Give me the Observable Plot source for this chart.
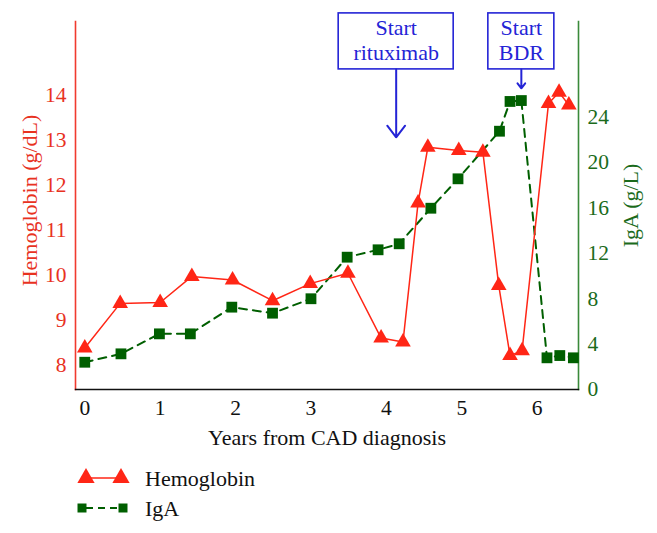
<!DOCTYPE html>
<html>
<head>
<meta charset="utf-8">
<script src="https://cdn.jsdelivr.net/npm/d3@7"></script>
<script src="https://cdn.jsdelivr.net/npm/@observablehq/plot@0.6"></script>
<style>
  html, body { margin: 0; padding: 0; background: #fff; }
  #wrap { position: relative; width: 657px; height: 533px; font-family: "Liberation Serif", "DejaVu Serif", serif; }
  #legend { position: absolute; left: 0; top: 450px; }
</style>
</head>
<body>
<div id="wrap"><div id="chart"></div><svg id="legend" width="657" height="83"></svg></div>
<script>
// ---- data ----
const hbYears = [0, 0.47, 1.00, 1.42, 1.96, 2.49, 2.99, 3.49, 3.93, 4.22, 4.42, 4.55, 4.96, 5.28, 5.49, 5.64, 5.80, 6.15, 6.29, 6.42];
const hbValues = [8.39, 9.38, 9.40, 9.98, 9.90, 9.44, 9.82, 10.05, 8.61, 8.52, 11.61, 12.85, 12.78, 12.74, 9.78, 8.22, 8.33, 13.82, 14.07, 13.79];
const igaYears = [0, 0.48, 0.99, 1.40, 1.95, 2.49, 3.00, 3.48, 3.89, 4.17, 4.59, 4.95, 5.50, 5.64, 5.79, 6.13, 6.30, 6.48];
const igaValues = [2.40, 3.14, 4.90, 4.90, 7.25, 6.72, 7.99, 11.65, 12.30, 12.83, 15.96, 18.55, 22.74, 25.36, 25.44, 2.79, 2.99, 2.79];
const xTicks = [0, 1, 2, 3, 4, 5, 6];
const hbTicks = [8, 9, 10, 11, 12, 13, 14];
const igaTicks = [0, 4, 8, 12, 16, 20, 24];
const annoYears = [4.13, 5.79];
const annoLabels = ["Start\nrituximab", "Start\nBDR"];
const annoTips = [13.07, 14.16];   // arrow tip, in g/dL
const annoBase = [14.58, 14.58];   // box bottom, in g/dL
const xTitle = "Years from CAD diagnosis";
const hbTitle = "Hemoglobin (g/dL)";
const igaTitle = "IgA (g/L)";
const seriesNames = ["Hemoglobin", "IgA"];

// ---- scales ----
const HB_DOMAIN = [7.4667, 15.6444];
const IGA_DOMAIN = [0, 32.4];
const toHb = d3.scaleLinear().domain(IGA_DOMAIN).range(HB_DOMAIN);

const RED = "#ff2616", RED_AXIS = "#f03a2e", RED_TXT = "#e8321f";
const GREEN = "#005f00", GREEN_AXIS = "#3a8a3a", GREEN_TXT = "#1b6b1b";
const BLUE = "#2424d6";

const hb = hbYears.map((x, i) => ({x, y: hbValues[i]}));
const iga = igaYears.map((x, i) => ({x, y: toHb(igaValues[i])}));
const annos = annoYears.map((x, i) => ({x, label: annoLabels[i], tip: annoTips[i], base: annoBase[i]}));

const FS = 22, TFS = 21.5;
const chart = Plot.plot({
  width: 657,
  height: 450,
  marginLeft: 75,
  marginRight: 79,
  marginTop: 21,
  marginBottom: 61,
  style: {fontFamily: '"Liberation Serif", serif', fontSize: FS + "px", background: "white", overflow: "visible"},
  x: {domain: [-0.123, 6.548]},
  y: {domain: HB_DOMAIN},
  marks: [
    Plot.axisX({ticks: xTicks, tickFormat: d => String(d), tickSize: 0, tickPadding: 10, label: null, fill: "#111", fontSize: TFS}),
    Plot.axisY({anchor: "left", ticks: hbTicks, tickFormat: d => String(d), tickSize: 0, tickPadding: 9, label: null, fill: RED_TXT, fontSize: TFS}),
    Plot.axisY(igaTicks.map(v => toHb(v)), {anchor: "right", tickSize: 0, tickPadding: 9, label: null, fill: GREEN_TXT, fontSize: TFS,
      tickFormat: d => String(Math.round(toHb.invert(d)))}),
    Plot.frame({anchor: "left", stroke: RED_AXIS, strokeWidth: 1.6}),
    Plot.frame({anchor: "right", stroke: GREEN_AXIS, strokeWidth: 1.6}),
    Plot.frame({anchor: "bottom", stroke: "#111", strokeWidth: 1.4}),
    Plot.text([xTitle], {frameAnchor: "bottom", dy: 48, text: d => d, fontSize: FS, fill: "#111", lineAnchor: "middle", textAnchor: "middle"}),
    Plot.text([hbTitle], {frameAnchor: "left", dx: -46, dy: -5, text: d => d, rotate: -90, fontSize: FS, fill: RED_TXT, lineAnchor: "middle", textAnchor: "middle"}),
    Plot.text([igaTitle], {frameAnchor: "right", dx: 52, text: d => d, rotate: -90, fontSize: FS, fill: GREEN_TXT, lineAnchor: "middle", textAnchor: "middle"}),
    // series
    Plot.line(iga, {x: "x", y: "y", stroke: GREEN, strokeWidth: 2, strokeDasharray: "8,6"}),
    Plot.line(hb, {x: "x", y: "y", stroke: RED, strokeWidth: 1.5}),
    Plot.dot(iga, {x: "x", y: "y", symbol: "square", r: 6.1, fill: GREEN, stroke: "none"}),
    Plot.dot(hb, {x: "x", y: "y", symbol: "triangle", r: 5.8, fill: RED, stroke: "none"}),
    // annotations
    Plot.rect([annos[0]], {x1: "x", x2: "x", y1: "base", y2: "base", insetLeft: -57.5, insetRight: -57.5, insetTop: -56, fill: "white", stroke: BLUE, strokeWidth: 1.6}),
    Plot.rect([annos[1]], {x1: "x", x2: "x", y1: "base", y2: "base", insetLeft: -33, insetRight: -33, insetTop: -56, fill: "white", stroke: BLUE, strokeWidth: 1.6}),
    Plot.text(annos, {x: "x", y: "base", text: "label", dy: -30, fill: BLUE, fontSize: FS, lineHeight: 1.15, lineAnchor: "middle", textAnchor: "middle"}),
    Plot.arrow(annos, {x1: "x", x2: "x", y1: "base", y2: "tip", stroke: BLUE, strokeWidth: 2, headLength: 11, headAngle: 75})
  ]
});
document.getElementById("chart").appendChild(chart);

// ---- legend ----
const lg = d3.select("#legend");
const row1 = lg.append("g").attr("transform", "translate(0,28)");
row1.append("line").attr("x1", 86).attr("x2", 121).attr("y1", 0).attr("y2", 0).attr("stroke", RED).attr("stroke-width", 1.6);
[86, 121].forEach(cx => row1.append("path").attr("d", d3.symbol(d3.symbolTriangle, Math.PI * 6.4 * 6.4)()).attr("transform", `translate(${cx},0)`).attr("fill", RED));
row1.append("text").attr("x", 145).attr("y", 0).attr("dy", "0.35em").attr("font-size", FS).attr("fill", "#111").text(seriesNames[0]);
const row2 = lg.append("g").attr("transform", "translate(0,58)");
row2.append("line").attr("x1", 82).attr("x2", 123).attr("y1", 0).attr("y2", 0).attr("stroke", GREEN).attr("stroke-width", 2).attr("stroke-dasharray", "7,5").attr("stroke-dashoffset", -4);
[82, 123].forEach(cx => row2.append("path").attr("d", d3.symbol(d3.symbolSquare, 81)()).attr("transform", `translate(${cx},0)`).attr("fill", GREEN));
row2.append("text").attr("x", 145).attr("y", 0).attr("dy", "0.35em").attr("font-size", FS).attr("fill", "#111").text(seriesNames[1]);
</script>
</body>
</html>
